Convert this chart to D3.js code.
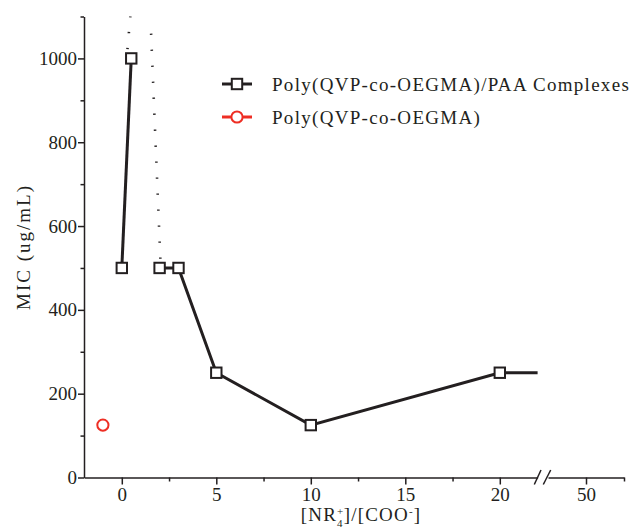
<!DOCTYPE html>
<html>
<head>
<meta charset="utf-8">
<script src="https://cdn.jsdelivr.net/npm/d3@7"></script>
<style>
  html, body { margin: 0; padding: 0; background: #fff; }
  svg { display: block; }
  text { font-family: "Liberation Serif", "DejaVu Serif", serif; fill: #231f20; }
</style>
</head>
<body>
<svg id="chart" width="631" height="531"></svg>
<script>
// ---- data ----
const complexX = [0, 0.5];            // first solid segment
const complexY = [500, 1000];
const complexX2 = [2, 3, 5, 10, 20, 50];  // second solid run (last point beyond break)
const complexY2 = [500, 500, 250, 125, 250, 250];
const polymerX = [-1];
const polymerY = [125];
const dottedA = [[0.30, 1022], [0.45, 1100]];
const dottedB = [[2.04, 522], [1.55, 1060]];
const xMajorTicks1 = [0, 5, 10, 15, 20];
const xMinorTicks1 = [2.5, 7.5, 12.5, 17.5];
const xMajorTicks2 = [50];
const xMinorTicks2 = [52.5];
const yMajorTicks = [0, 200, 400, 600, 800, 1000];
const yMinorTicks = [100, 300, 500, 700, 900, 1100];
const legendLabels = ["Poly(QVP-co-OEGMA)/PAA Complexes", "Poly(QVP-co-OEGMA)"];

// ---- layout ----
const ink = "#231f20", red = "#ee2e24";
const svg = d3.select("#chart");
const x1 = d3.scaleLinear().domain([-2, 22]).range([84, 537.6]);
const x2 = d3.scaleLinear().domain([47.5, 52.5]).range([548, 624]);
const y = d3.scaleLinear().domain([0, 1100]).range([477.5, 16.5]);
const xv = v => v <= 22 ? x1(v) : x2(v);

const fontTick = 19;
const fmt = d3.format("d");

// y axis
const yAx = svg.append("g").attr("transform", "translate(84,0)");
yAx.call(d3.axisLeft(y).tickValues(yMajorTicks).tickSize(6).tickSizeOuter(0).tickPadding(1).tickFormat(fmt));
yAx.append("g").call(d3.axisLeft(y).tickValues(yMinorTicks).tickSize(3.5).tickSizeOuter(0).tickFormat(""))
  .select(".domain").remove();
yAx.selectAll("text").attr("font-size", fontTick).style("font-family", "Liberation Serif").attr("fill", ink);
yAx.selectAll("line,path").attr("stroke", ink).attr("stroke-width", 1.5);

// x axis segment 1
const xAx1 = svg.append("g").attr("transform", "translate(0,477.5)");
xAx1.call(d3.axisBottom(x1).tickValues(xMajorTicks1).tickSize(7).tickSizeOuter(0).tickPadding(3).tickFormat(fmt));
xAx1.append("g").call(d3.axisBottom(x1).tickValues(xMinorTicks1).tickSize(4).tickSizeOuter(0).tickFormat(""))
  .select(".domain").remove();
// x axis segment 2
const xAx2 = svg.append("g").attr("transform", "translate(0,477.5)");
xAx2.call(d3.axisBottom(x2).tickValues(xMajorTicks2).tickSize(7).tickSizeOuter(0).tickPadding(3).tickFormat(fmt));
xAx2.append("g").call(d3.axisBottom(x2).tickValues(xMinorTicks2).tickSize(4).tickSizeOuter(0).tickFormat(""))
  .select(".domain").remove();
[xAx1, xAx2].forEach(g => {
  g.selectAll("text").attr("font-size", fontTick).style("font-family", "Liberation Serif").attr("fill", ink);
  g.selectAll("line,path").attr("stroke", ink).attr("stroke-width", 1.5);
});
// break marks
const brk = svg.append("g").attr("stroke", ink).attr("stroke-width", 1.5);
[[534.3, 541], [543.3, 550.7]].forEach(([a, b]) => {
  brk.append("line").attr("x1", a).attr("y1", 484.5).attr("x2", b).attr("y2", 470);
});

// clip for segment 1
svg.append("clipPath").attr("id", "seg1").append("rect")
  .attr("x", 0).attr("y", 0).attr("width", x1(22)).attr("height", 531);

const line = d3.line().x(d => xv(d[0])).y(d => y(d[1]));

// dotted lines
[dottedA, dottedB].forEach(pts => {
  svg.append("path").attr("d", line(pts)).attr("fill", "none")
    .attr("stroke", ink).attr("stroke-width", 2.6).attr("stroke-dasharray", "1.3,14.7");
});

// solid lines
const run1 = complexX.map((v, i) => [v, complexY[i]]);
const run2 = complexX2.map((v, i) => [v, complexY2[i]]);
svg.append("path").attr("d", line(run1)).attr("fill", "none").attr("stroke", ink).attr("stroke-width", 3);
svg.append("path").attr("d", line(run2)).attr("fill", "none").attr("stroke", ink).attr("stroke-width", 3)
  .attr("clip-path", "url(#seg1)");

// square markers (visible only within segment 1)
const sq = run1.concat(run2).filter(d => d[0] <= 22);
svg.selectAll("rect.m").data(sq).enter().append("rect").attr("class", "m")
  .attr("x", d => xv(d[0]) - 5.2).attr("y", d => y(d[1]) - 5.2)
  .attr("width", 10.4).attr("height", 10.4)
  .attr("fill", "#fff").attr("stroke", ink).attr("stroke-width", 2);

// red circle markers
svg.selectAll("circle.p").data(polymerX.map((v, i) => [v, polymerY[i]])).enter()
  .append("circle").attr("class", "p")
  .attr("cx", d => xv(d[0])).attr("cy", d => y(d[1])).attr("r", 5.6)
  .attr("fill", "#fff").attr("stroke", red).attr("stroke-width", 2);

// legend
const lg = svg.append("g");
[[84, ink, "sq"], [117, red, "ci"]].forEach(([ly, col, m], i) => {
  lg.append("line").attr("x1", 222).attr("x2", 252).attr("y1", ly).attr("y2", ly)
    .attr("stroke", col).attr("stroke-width", 3);
  if (m === "sq") {
    lg.append("rect").attr("x", 237 - 5.2).attr("y", ly - 5.2).attr("width", 10.4).attr("height", 10.4)
      .attr("fill", "#fff").attr("stroke", col).attr("stroke-width", 2);
  } else {
    lg.append("circle").attr("cx", 237).attr("cy", ly).attr("r", 5.6)
      .attr("fill", "#fff").attr("stroke", col).attr("stroke-width", 2);
  }
  lg.append("text").attr("x", 272).attr("y", ly + 7).attr("font-size", 19)
    .attr("letter-spacing", 1.3).text(legendLabels[i]);
});

// axis titles
svg.append("text").attr("transform", "translate(30,247) rotate(-90)")
  .attr("text-anchor", "middle").attr("font-size", 19).attr("letter-spacing", 2).text("MIC (ug/mL)");
const xt = svg.append("text").attr("x", 361).attr("y", 521).attr("text-anchor", "middle")
  .attr("font-size", 19).attr("letter-spacing", 1.2);
xt.append("tspan").text("[NR");
xt.append("tspan").attr("font-size", 11).attr("dy", -6).text("+");
xt.append("tspan").attr("font-size", 11).attr("dx", -7.5).attr("dy", 12).text("4");
xt.append("tspan").attr("dy", -6).text("]/[COO");
xt.append("tspan").attr("font-size", 11).attr("dy", -6).text("-");
xt.append("tspan").attr("dy", 6).text("]");
</script>
</body>
</html>
